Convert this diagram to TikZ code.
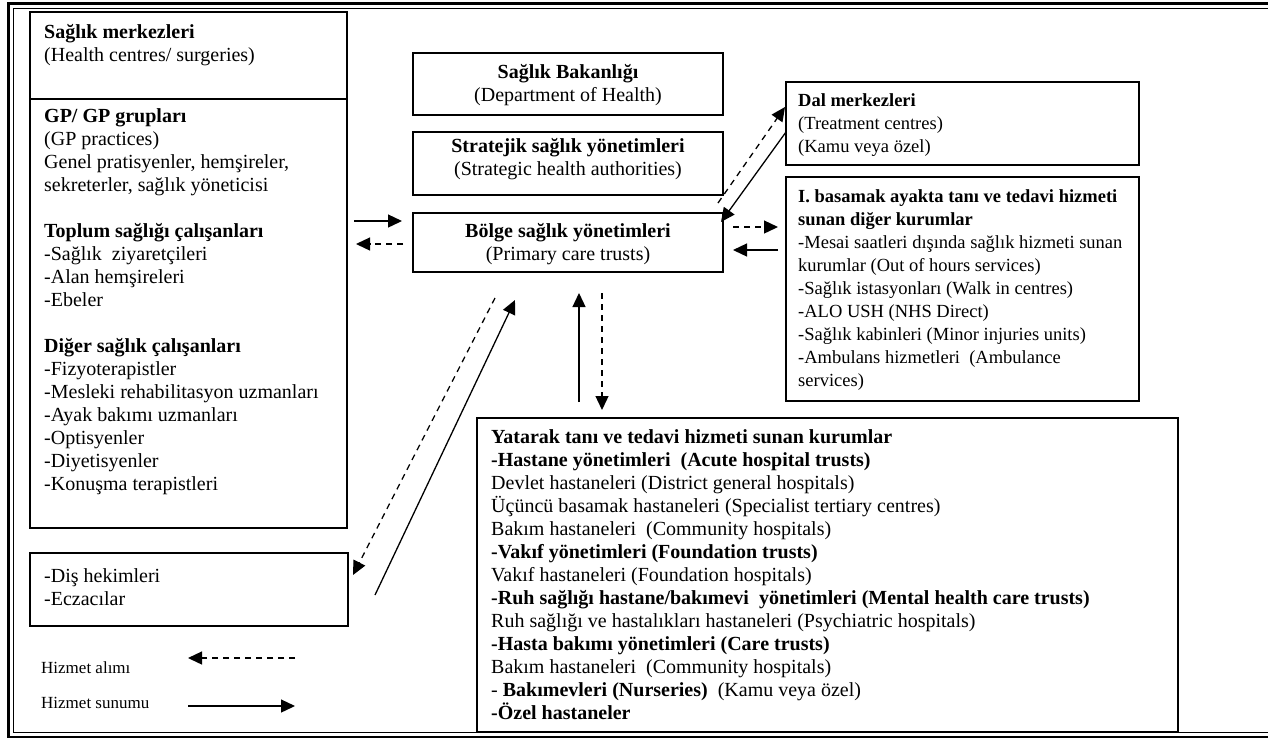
\documentclass[tikz,border=0pt]{standalone}
\usepackage{fontspec}
\setmainfont{Liberation Serif}
\usetikzlibrary{arrows.meta,calc}
\begin{document}
\begin{tikzpicture}[x=1pt,y=-1pt,
  box/.style={draw, line width=1.6pt, inner sep=0pt, outer sep=0pt, anchor=north west},
  txt/.style={inner sep=0pt, anchor=north west, align=left, font=\fontsize{20}{23}\selectfont},
  stxt/.style={txt, font=\fontsize{18.5}{23}\selectfont},
  ctxt/.style={inner sep=0pt, anchor=north, align=center, font=\fontsize{20}{23}\selectfont},
  lgd/.style={inner sep=0pt, anchor=north west, font=\fontsize{17}{20}\selectfont},
  serv/.style={line width=1.3pt, -{Triangle[length=14pt,width=13pt]}},
  recv/.style={line width=1.3pt, dash pattern=on 6pt off 5pt, -{Triangle[length=14pt,width=13pt]}},
  frame/.style={line cap=butt}
]
\useasboundingbox (0,0) rectangle (1268,740);

% outer double frame
\draw[frame, line width=2.2pt] (1268,3.5) -- (8.5,3.5) -- (8.5,737) -- (1268,737);
\draw[frame, line width=1.4pt] (1268,8.5) -- (13.5,8.5) -- (13.5,732.5) -- (1268,732.5);

% boxes
\node[box, minimum width=317pt, minimum height=516pt] (leftbox) at (30,12) {};
\draw[line width=1.6pt] ($(leftbox.north west)+(0,87)$) -- ($(leftbox.north east)+(0,87)$);
\node[box, minimum width=318pt, minimum height=73pt] (dis) at (30,553) {};
\node[box, minimum width=310pt, minimum height=62pt] (bak) at (413,53) {};
\node[box, minimum width=310pt, minimum height=63pt] (str) at (413,132) {};
\node[box, minimum width=310pt, minimum height=59pt] (bolge) at (413,213) {};
\node[box, minimum width=353pt, minimum height=83pt] (dal) at (786,82) {};
\node[box, minimum width=353pt, minimum height=224pt] (ibas) at (786,177) {};
\node[box, minimum width=701pt, minimum height=314pt] (yat) at (477,418) {};

% texts
\node[txt] (tsm) at (44,22) {\strut\textbf{Sağlık merkezleri}\\(Health centres/ surgeries)};
\node[txt] (tgp) at (44,106) {\strut\textbf{GP/ GP grupları}\\
(GP practices)\\
Genel pratisyenler, hemşireler,\\
sekreterler, sağlık yöneticisi\\[23pt]
\textbf{Toplum sağlığı çalışanları}\\
-Sağlık\ \ ziyaretçileri\\
-Alan hemşireleri\\
-Ebeler\\[23pt]
\textbf{Diğer sağlık çalışanları}\\
-Fizyoterapistler\\
-Mesleki rehabilitasyon uzmanları\\
-Ayak bakımı uzmanları\\
-Optisyenler\\
-Diyetisyenler\\
-Konuşma terapistleri};
\node[txt] (tdis) at (44,566) {\strut-Diş hekimleri\\-Eczacılar};

\node[ctxt] (tbak) at (568,62) {\strut\textbf{Sağlık Bakanlığı}\\(Department of Health)};
\node[ctxt] (tstr) at (568,136) {\strut\textbf{Stratejik sağlık yönetimleri}\\(Strategic health authorities)};
\node[ctxt] (tbol) at (568,221) {\strut\textbf{Bölge sağlık yönetimleri}\\(Primary care trusts)};

\node[stxt] (tdal) at (798,90) {\strut\textbf{Dal merkezleri}\\(Treatment centres)\\(Kamu veya özel)};
\node[stxt] (tibas) at (798,186) {\strut\textbf{I. basamak ayakta tanı ve tedavi hizmeti}\\
\textbf{sunan diğer kurumlar}\\
-Mesai saatleri dışında sağlık hizmeti sunan\\
kurumlar (Out of hours services)\\
-Sağlık istasyonları (Walk in centres)\\
-ALO USH (NHS Direct)\\
-Sağlık kabinleri (Minor injuries units)\\
-Ambulans hizmetleri\ \ (Ambulance\\
services)};
\node[txt] (tyat) at (491,427) {\strut\textbf{Yatarak tanı ve tedavi hizmeti sunan kurumlar}\\
\textbf{-Hastane yönetimleri\ \ (Acute hospital trusts)}\\
Devlet hastaneleri (District general hospitals)\\
Üçüncü basamak hastaneleri (Specialist tertiary centres)\\
Bakım hastaneleri\ \ (Community hospitals)\\
\textbf{-Vakıf yönetimleri (Foundation trusts)}\\
Vakıf hastaneleri (Foundation hospitals)\\
\textbf{-Ruh sağlığı hastane/bakımevi\ \ yönetimleri (Mental health care trusts)}\\
Ruh sağlığı ve hastalıkları hastaneleri (Psychiatric hospitals)\\
\textbf{-Hasta bakımı yönetimleri (Care trusts)}\\
Bakım hastaneleri\ \ (Community hospitals)\\
- \textbf{Bakımevleri (Nurseries)}\ \ (Kamu veya özel)\\
\textbf{-Özel hastaneler}};

% legend
\node[lgd] (lga) at (41,659) {\strut Hizmet alımı};
\node[lgd] (lgs) at (41,694) {\strut Hizmet sunumu};
\coordinate (la1) at (295,658);
\coordinate (la2) at (188,658);
\coordinate (ls1) at (188,706);
\coordinate (ls2) at (295,706);
\draw[recv] (la1) -- (la2);
\draw[serv] (ls1) -- (ls2);

% connectors
\draw[serv] ($(leftbox.north east)+(7,209)$) -- ($(bolge.north west)+(-11,8)$);
\draw[recv] ($(bolge.north west)+(-10,31)$) -- ($(leftbox.north east)+(9,232)$);
\draw[recv] ($(bolge.north east)+(10,14)$) -- ($(ibas.north west)+(-8,50)$);
\draw[serv] ($(ibas.north west)+(-8,73)$) -- ($(bolge.north east)+(10,37)$);
\draw[recv] ($(bolge.north east)+(-5,-10)$) -- ($(dal.north west)+(-1,25)$);
\draw[serv] ($(dal.north west)+(0,50)$) -- ($(bolge.north east)+(-2,9)$);
\draw[serv] ($(yat.north west)+(102,-16)$) -- ($(bolge.south west)+(166,21)$);
\draw[recv] ($(bolge.south west)+(189,21)$) -- ($(yat.north west)+(125,-8)$);
\draw[recv] ($(bolge.south west)+(82,26)$) -- ($(dis.north east)+(5,22)$);
\draw[serv] ($(dis.north east)+(27,42)$) -- ($(bolge.south west)+(102,28)$);
\end{tikzpicture}
\end{document}
